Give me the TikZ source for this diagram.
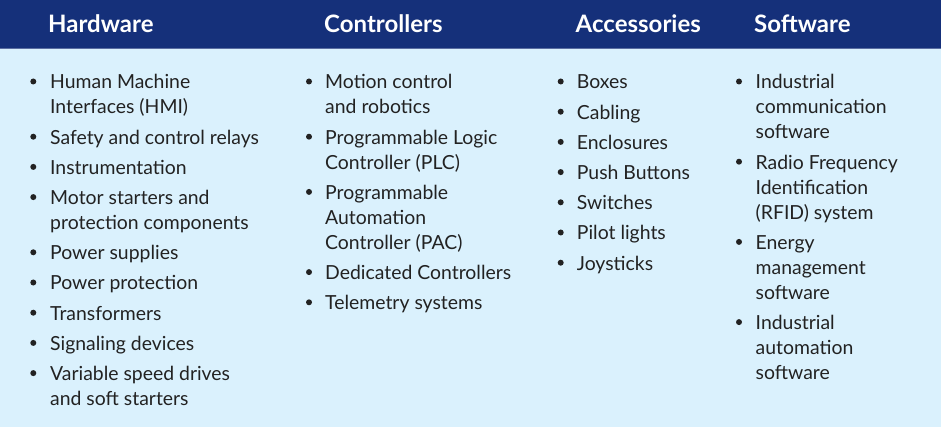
\documentclass[tikz,border=0pt]{standalone}
\usepackage{fontspec}
\setmainfont{Lato}
\definecolor{bandblue}{HTML}{15307A}
\definecolor{paleblue}{HTML}{DAF1FD}
\definecolor{inkgray}{HTML}{222222}
\begin{document}
\begin{tikzpicture}[x=1pt,y=-1pt,
  head/.style={anchor=base west,inner sep=0pt,text=white,font=\fontsize{24}{28}\selectfont\bfseries},
  entry/.style={anchor=base west,inner sep=0pt,align=left,text=inkgray,font=\fontsize{19.4}{25}\selectfont},
  dot/.style={circle,fill=inkgray,inner sep=0pt,minimum size=6pt}]
\useasboundingbox (0,0) rectangle (941,427);
\fill [paleblue] (0,48.5) rectangle (941,427);
\fill [bandblue] (0,0) rectangle (941,48.5);
\draw [bandblue!70!white,line width=1pt] (0,48.5) -- (941,48.5);
% headings
\node [head] (hw) at (48,33) {Hardware};
\node [head] (ct) at (324,33) {Controllers};
\node [head] (ac) at (575.5,33) {Accessories};
\node [head] (sw) at (754,33) {Software};
% hardware (node base = last line)
\node [entry] (hw1) at (50,114) {Human Machine\\Interfaces (HMI)};
\node [entry] (hw2) at (50,144.2) {Safety and control relays};
\node [entry] (hw3) at (50,174.4) {Instrumentation};
\node [entry] (hw4) at (50,229.6) {Motor starters and\\protection components};
\node [entry] (hw5) at (50,259.8) {Power supplies};
\node [entry] (hw6) at (50,290) {Power protection};
\node [entry] (hw7) at (50,320.2) {Transformers};
\node [entry] (hw8) at (50,350.4) {Signaling devices};
\node [entry] (hw9) at (50,405.6) {Variable speed drives\\and soft starters};
\node [dot] (hwd1) at (33.3,81.5) {};
\node [dot] (hwd2) at (33.3,136.7) {};
\node [dot] (hwd3) at (33.3,166.9) {};
\node [dot] (hwd4) at (33.3,197.1) {};
\node [dot] (hwd5) at (33.3,252.3) {};
\node [dot] (hwd6) at (33.3,282.5) {};
\node [dot] (hwd7) at (33.3,312.7) {};
\node [dot] (hwd8) at (33.3,342.9) {};
\node [dot] (hwd9) at (33.3,373.1) {};
% controllers
\node [entry] (ct1) at (325,114) {Motion control\\and robotics};
\node [entry] (ct2) at (325,169.2) {Programmable Logic\\Controller (PLC)};
\node [entry] (ct3) at (325,249.4) {Programmable\\Automation\\Controller (PAC)};
\node [entry] (ct4) at (325,279.6) {Dedicated Controllers};
\node [entry] (ct5) at (325,309.8) {Telemetry systems};
\node [dot] (ctd1) at (309,81.5) {};
\node [dot] (ctd2) at (309,136.7) {};
\node [dot] (ctd3) at (309,191.9) {};
\node [dot] (ctd4) at (309,272.1) {};
\node [dot] (ctd5) at (309,302.3) {};
% accessories
\node [entry] (ac1) at (576.7,89) {Boxes};
\node [entry] (ac2) at (576.7,119.2) {Cabling};
\node [entry] (ac3) at (576.7,149.4) {Enclosures};
\node [entry] (ac4) at (576.7,179.6) {Push Buttons};
\node [entry] (ac5) at (576.7,209.8) {Switches};
\node [entry] (ac6) at (576.7,240) {Pilot lights};
\node [entry] (ac7) at (576.7,270.2) {Joysticks};
\node [dot] (acd1) at (560.7,81.5) {};
\node [dot] (acd2) at (560.7,111.7) {};
\node [dot] (acd3) at (560.7,141.9) {};
\node [dot] (acd4) at (560.7,172.1) {};
\node [dot] (acd5) at (560.7,202.3) {};
\node [dot] (acd6) at (560.7,232.5) {};
\node [dot] (acd7) at (560.7,262.7) {};
% software
\node [entry] (sw1) at (755.5,139) {Industrial\\communication\\software};
\node [entry] (sw2) at (755.5,219.2) {Radio Frequency\\Identification\\(RFID) system};
\node [entry] (sw3) at (755.5,299.4) {Energy\\management\\software};
\node [entry] (sw4) at (755.5,379.6) {Industrial\\automation\\software};
\node [dot] (swd1) at (739,81.5) {};
\node [dot] (swd2) at (739,161.7) {};
\node [dot] (swd3) at (739,241.9) {};
\node [dot] (swd4) at (739,322.1) {};
\end{tikzpicture}
\end{document}
